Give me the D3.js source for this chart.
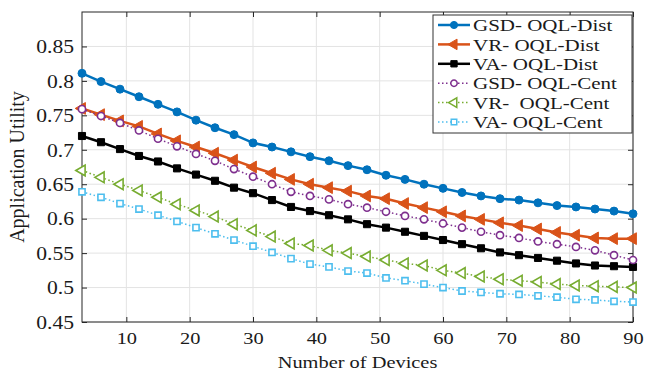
<!DOCTYPE html>
<html>
<head>
<meta charset="utf-8">
<script src="https://cdn.jsdelivr.net/npm/d3@7"></script>
<style>
  body { margin: 0; background: #fff; }
  text { font-family: "Liberation Serif", "Times New Roman", serif; fill: #1a1a1a; white-space: pre; }
</style>
</head>
<body>
<svg id="chart" width="645" height="371"></svg>
<script>
// number of devices (x)
const devices = [3, 6, 9, 12, 15, 18, 21, 24, 27, 30, 33, 36, 39, 42, 45, 48, 51, 54, 57, 60, 63, 66, 69, 72, 75, 78, 81, 84, 87, 90];

const gsdDist = [0.811, 0.799, 0.788, 0.777, 0.766, 0.755, 0.743, 0.732, 0.722, 0.710, 0.704, 0.697, 0.690, 0.684, 0.677,
  0.671, 0.663, 0.657, 0.650, 0.644, 0.638, 0.633, 0.629, 0.627, 0.623, 0.619, 0.617, 0.614, 0.611, 0.607];
const vrDist = [0.760, 0.751, 0.742, 0.734, 0.723, 0.713, 0.704, 0.695, 0.685, 0.675, 0.666, 0.657, 0.650, 0.645, 0.640,
  0.633, 0.629, 0.622, 0.616, 0.610, 0.604, 0.599, 0.594, 0.590, 0.585, 0.580, 0.576, 0.572, 0.571, 0.571];
const vaDist = [0.720, 0.711, 0.701, 0.691, 0.683, 0.673, 0.664, 0.655, 0.645, 0.637, 0.627, 0.617, 0.611, 0.605, 0.599,
  0.592, 0.587, 0.581, 0.575, 0.569, 0.563, 0.557, 0.551, 0.547, 0.543, 0.539, 0.535, 0.532, 0.531, 0.530];
const gsdCent = [0.759, 0.749, 0.739, 0.728, 0.716, 0.705, 0.694, 0.684, 0.672, 0.661, 0.650, 0.639, 0.633, 0.628, 0.621,
  0.616, 0.610, 0.604, 0.599, 0.593, 0.587, 0.581, 0.576, 0.572, 0.567, 0.563, 0.559, 0.554, 0.547, 0.540];
const vrCent = [0.670, 0.660, 0.650, 0.641, 0.631, 0.621, 0.612, 0.603, 0.592, 0.583, 0.574, 0.564, 0.561, 0.554, 0.550,
  0.545, 0.540, 0.535, 0.532, 0.525, 0.521, 0.516, 0.512, 0.510, 0.508, 0.505, 0.503, 0.502, 0.501, 0.500];
const vaCent = [0.639, 0.631, 0.622, 0.614, 0.605, 0.596, 0.587, 0.578, 0.569, 0.560, 0.551, 0.542, 0.534, 0.530, 0.524,
  0.521, 0.514, 0.510, 0.505, 0.500, 0.495, 0.493, 0.491, 0.490, 0.488, 0.486, 0.483, 0.482, 0.480, 0.479];

const xTicks = [10, 20, 30, 40, 50, 60, 70, 80, 90];
const yTicks = [0.45, 0.5, 0.55, 0.6, 0.65, 0.7, 0.75, 0.8, 0.85];

const series = [
  {name: 'GSD- OQL-Dist', values: gsdDist, color: '#0072BD', symbol: d3.symbolCircle, size: 50, filled: true, rot: 0},
  {name: 'VR- OQL-Dist', values: vrDist, color: '#D95319', symbol: d3.symbolTriangle, size: 60, filled: true, rot: -90},
  {name: 'VA- OQL-Dist', values: vaDist, color: '#000000', symbol: d3.symbolSquare, size: 50, filled: true, rot: 0},
  {name: 'GSD- OQL-Cent', values: gsdCent, color: '#7E2F8E', symbol: d3.symbolCircle, size: 40, filled: false, rot: 0},
  {name: 'VR-  OQL-Cent', values: vrCent, color: '#77AC30', symbol: d3.symbolTriangle, size: 50, filled: false, rot: -90},
  {name: 'VA- OQL-Cent', values: vaCent, color: '#4DBEEE', symbol: d3.symbolSquare, size: 38, filled: false, rot: 0}
];

const margin = {top: 12, right: 12, bottom: 49, left: 82};
const width = 645, height = 371;
const w = width - margin.left - margin.right;
const h = height - margin.top - margin.bottom;
const sx = 1.2; // text in the picture is stretched sideways

const svg = d3.select('#chart');
const g = svg.append('g').attr('transform', `translate(${margin.left},${margin.top})`);

const x = d3.scaleLinear().domain([3, 90]).range([0, w]);
const y = d3.scaleLinear().domain([0.45, 0.9]).range([h, 0]);

// grid
g.append('g')
  .selectAll('line')
  .data(xTicks)
  .join('line')
  .attr('x1', d => x(d)).attr('x2', d => x(d))
  .attr('y1', 0).attr('y2', h)
  .attr('stroke', '#e3e3e3');
g.append('g')
  .selectAll('line')
  .data(yTicks)
  .join('line')
  .attr('x1', 0).attr('x2', w)
  .attr('y1', d => y(d)).attr('y2', d => y(d))
  .attr('stroke', '#e3e3e3');

// axes (inward ticks)
const xAxis = g.append('g')
  .attr('transform', `translate(0,${h})`)
  .call(d3.axisBottom(x).tickValues(xTicks).tickSize(-5).tickPadding(10).tickSizeOuter(0));
const yAxis = g.append('g')
  .call(d3.axisLeft(y).tickValues(yTicks).tickFormat(d => String(d)).tickSize(-5).tickPadding(12).tickSizeOuter(0));
g.append('g')
  .call(d3.axisTop(x).tickValues(xTicks).tickSize(-5).tickFormat('').tickSizeOuter(0));
g.append('g')
  .attr('transform', `translate(${w},0)`)
  .call(d3.axisRight(y).tickValues(yTicks).tickSize(-5).tickFormat('').tickSizeOuter(0));

g.selectAll('.domain').remove();
g.selectAll('.tick line').attr('stroke', '#262626');
xAxis.selectAll('text')
  .attr('font-size', 17)
  .attr('fill', '#1a1a1a')
  .attr('transform', `scale(${sx},1)`)
  .attr('x', 0);
yAxis.selectAll('text')
  .attr('font-size', 18)
  .attr('fill', '#1a1a1a')
  .attr('transform', `scale(${sx},1)`)
  .attr('x', -8 / sx)
  .attr('dy', '0.35em');

g.append('rect')
  .attr('width', w).attr('height', h)
  .attr('fill', 'none')
  .attr('stroke', '#262626');

// axis titles
svg.append('text')
  .attr('transform', `translate(${margin.left + w / 2},368) scale(${sx},1)`)
  .attr('text-anchor', 'middle')
  .attr('font-size', 17)
  .text('Number of Devices');
svg.append('text')
  .attr('transform', `translate(24,${margin.top + h / 2}) rotate(-90)`)
  .attr('text-anchor', 'middle')
  .attr('font-size', 20)
  .text('Application Utility');

// lines
const line = d3.line()
  .x((d, i) => x(devices[i]))
  .y(d => y(d));

series.forEach(s => {
  g.append('path')
    .datum(s.values)
    .attr('fill', 'none')
    .attr('stroke', s.color)
    .attr('stroke-width', s.filled ? 2.5 : 1.5)
    .attr('stroke-dasharray', s.filled ? null : '1.5,2.5')
    .attr('d', line);

  g.append('g')
    .selectAll('path')
    .data(s.values)
    .join('path')
    .attr('transform', (d, i) => `translate(${x(devices[i])},${y(d)}) rotate(${s.rot})`)
    .attr('d', d3.symbol().type(s.symbol).size(s.size))
    .attr('fill', s.filled ? s.color : '#fff')
    .attr('stroke', s.color)
    .attr('stroke-width', s.filled ? 1 : 1.6);
});

// legend
const legend = svg.append('g').attr('transform', 'translate(433,15)');
legend.append('rect')
  .attr('width', 199).attr('height', 118)
  .attr('fill', '#fff')
  .attr('stroke', '#333')
  .attr('stroke-width', 1);

const item = legend.selectAll('.item')
  .data(series)
  .join('g')
  .attr('class', 'item')
  .attr('transform', (d, i) => `translate(0,${10 + i * 19.4})`);

item.append('line')
  .attr('x1', 5).attr('x2', 37)
  .attr('stroke', d => d.color)
  .attr('stroke-width', d => d.filled ? 2.5 : 1.5)
  .attr('stroke-dasharray', d => d.filled ? null : '1.5,2.5');
item.append('path')
  .attr('transform', d => `translate(21,0) rotate(${d.rot})`)
  .attr('d', d => d3.symbol().type(d.symbol).size(d.size * 0.8)())
  .attr('fill', d => d.filled ? d.color : '#fff')
  .attr('stroke', d => d.color)
  .attr('stroke-width', d => d.filled ? 1 : 1.5);
item.append('text')
  .attr('transform', `translate(40,0) scale(${sx},1)`)
  .attr('dy', '0.35em')
  .attr('font-size', 17.5)
  .text(d => d.name);
</script>
</body>
</html>
